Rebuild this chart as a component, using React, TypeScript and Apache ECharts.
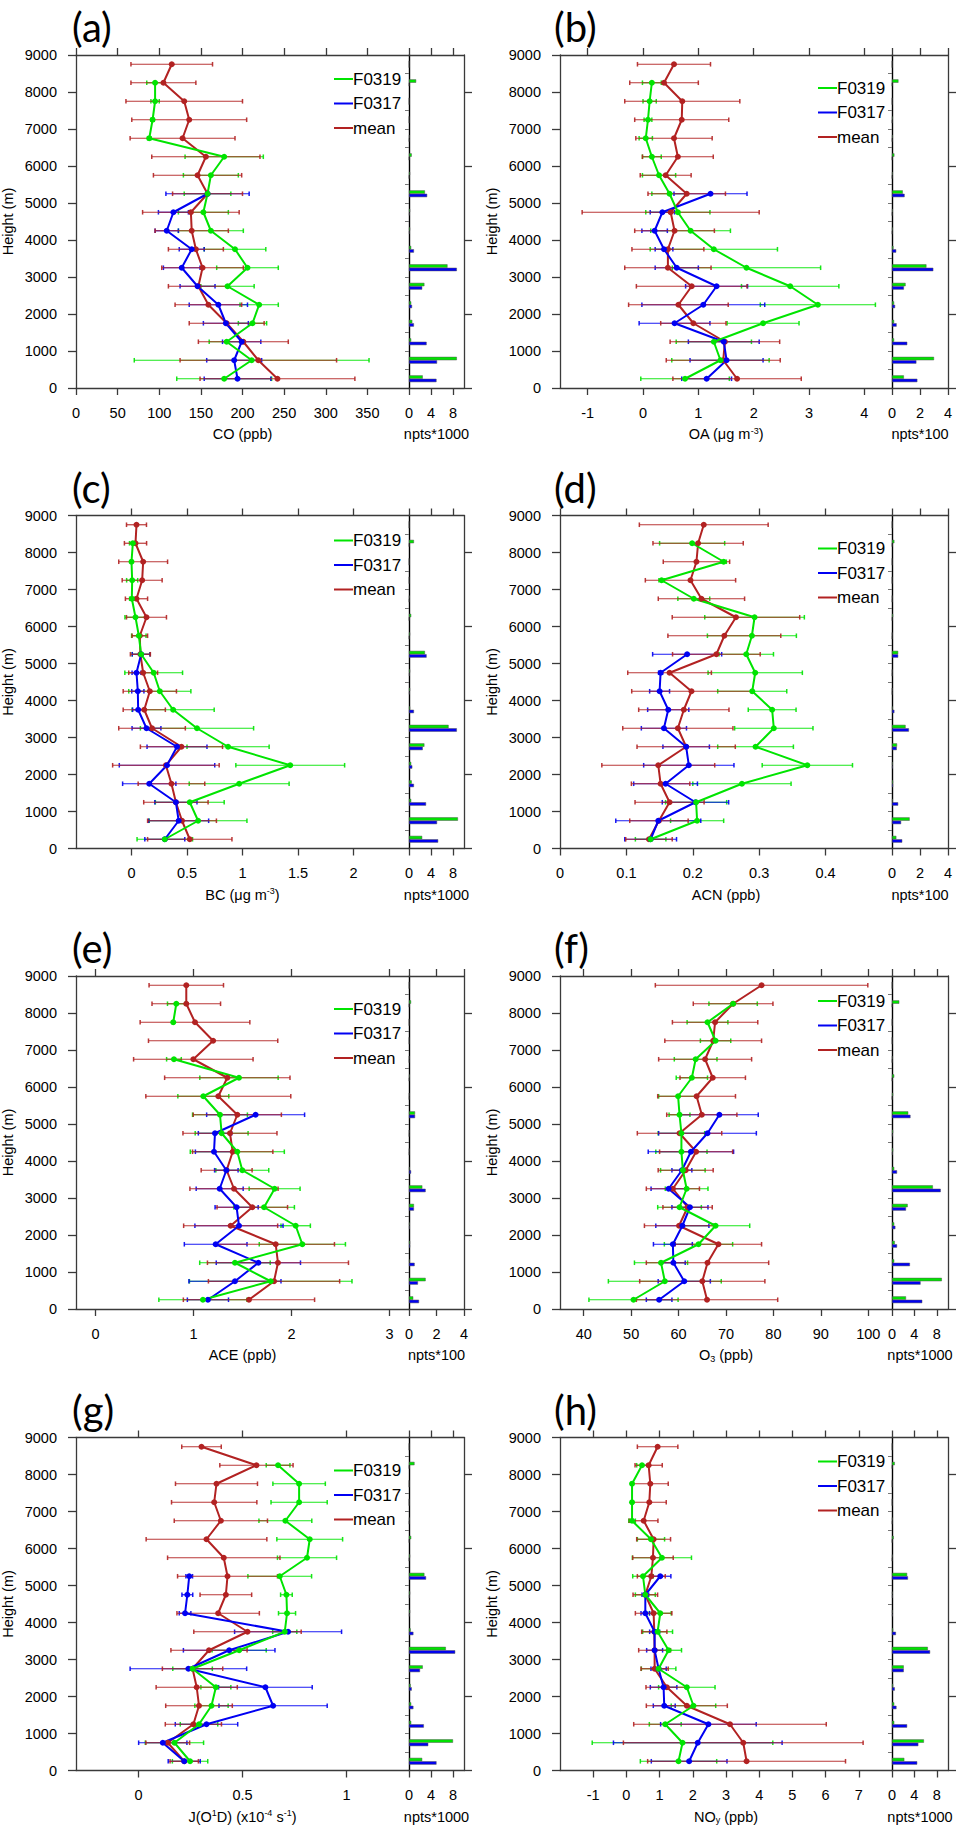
import React, { useEffect, useRef } from 'react';
import * as echarts from 'echarts';

// Height bins (m), bottom to top
const LEVELS = [250, 750, 1250, 1750, 2250, 2750, 3250, 3750, 4250, 4750, 5250, 5750, 6250, 6750, 7250, 7750, 8250, 8750];

type Pt = [number, number] | null; // [mean, std]

// (a) CO
const coF0319: Pt[] = [[178, 57], [211, 141], [181, 21], [212, 17], [220, 23], [182, 32], [206, 37], [191, 37], [162, 39], [153, 30], [158, 28], [162, 33], [178, 47], [88, 2], [92, 2], [95, 5], [95, 10], null];
const coF0317: Pt[] = [[194, 40], [190, 33], [199, 23], [180, 27], [171, 35], [146, 21], [127, 22], [139, 15], [109, 14], [117, 18], [158, 50]];
const coMean: Pt[] = [[242, 93], [219, 94], [201, 54], [181, 45], [159, 40], [147, 36], [152, 49], [144, 33], [139, 44], [138, 58], [158, 42], [146, 53], [156, 65], [128, 63], [136, 69], [130, 70], [105, 39], [115, 49]];
const coNptsF0319 = [2.5, 8.7, 0.4, 0.6, 0.4, 2.8, 7.0, 0.4, 0.2, 0.2, 2.9, 0.2, 0.5, 0.1, 0, 0, 1.3, 0];
const coNptsF0317 = [5.0, 5.1, 3.2, 0.9, 0.55, 2.4, 8.7, 0.9, 0.1, 0.1, 3.3, 0, 0, 0, 0, 0, 0, 0];

// (b) OA
const oaF0319: Pt[] = [[0.76, 0.8], [1.4, 0.88], [1.28, 0.68], [2.17, 0.65], [3.16, 1.04], [2.66, 0.88], [1.87, 1.34], [1.28, 1.15], [0.86, 0.72], [0.63, 0.58], [0.48, 0.32], [0.29, 0.3], [0.16, 0.17], [0.05, 0.12], [0.09, 0.07], [0.12, 0.12], [0.16, 0.17], null];
const oaF0317: Pt[] = [[1.15, 0.45], [1.51, 0.66], [1.46, 0.64], [0.57, 0.64], [1.09, 1.11], [1.33, 0.56], [0.61, 0.39], [0.38, 0.16], [0.21, 0.23], [0.35, 0.22], [1.22, 0.66]];
const oaMean: Pt[] = [[1.7, 1.16], [1.45, 1.03], [1.48, 0.99], [0.91, 0.59], [0.64, 0.9], [0.88, 1.0], [0.45, 0.78], [0.45, 0.65], [0.57, 0.72], [0.5, 1.6], [0.79, 0.7], [0.41, 0.46], [0.63, 0.64], [0.56, 0.69], [0.7, 0.85], [0.71, 1.04], [0.38, 0.62], [0.56, 0.66]];
const oaNptsF0319 = [0.85, 3.0, 0.15, 0.15, 0.15, 0.97, 2.46, 0.1, 0.05, 0.05, 0.77, 0.05, 0.17, 0.05, 0.05, 0, 0.46, 0];
const oaNptsF0317 = [1.81, 1.74, 1.09, 0.33, 0.22, 0.85, 2.95, 0.3, 0, 0, 0.9, 0, 0, 0, 0, 0, 0, 0];

// (c) BC
const bcF0319: Pt[] = [[0.3, 0.25], [0.6, 0.44], [0.525, 0.31], [0.97, 0.45], [1.43, 0.49], [0.87, 0.37], [0.59, 0.51], [0.375, 0.37], [0.255, 0.28], [0.2, 0.26], [0.087, 0.08], [0.066, 0.065], [0.036, 0.095], [0.003, 0.02], [0.006, 0.05], [0.0, 0.01], [0.012, 0.03], null];
const bcF0317: Pt[] = [[0.3, 0.18], [0.425, 0.27], [0.4, 0.19], [0.16, 0.24], [0.32, 0.43], [0.41, 0.27], [0.135, 0.13], [0.06, 0.05], [0.057, 0.055], [0.045, 0.04], [0.087, 0.08]];
const bcMean: Pt[] = [[0.525, 0.38], [0.455, 0.31], [0.4, 0.29], [0.36, 0.3], [0.31, 0.48], [0.45, 0.37], [0.185, 0.3], [0.115, 0.19], [0.165, 0.24], [0.105, 0.13], [0.08, 0.09], [0.075, 0.07], [0.135, 0.18], [0.045, 0.1], [0.096, 0.18], [0.105, 0.22], [0.036, 0.1], [0.045, 0.09]];
const bcNptsF0319 = [2.4, 8.9, 0.4, 0.5, 0.4, 2.8, 7.2, 0.2, 0.2, 0.2, 2.9, 0.2, 0.4, 0.1, 0, 0, 0.9, 0];
const bcNptsF0317 = [5.3, 5.1, 3.1, 0.9, 0.6, 2.5, 8.7, 0.9, 0.1, 0.1, 3.2, 0, 0, 0, 0, 0, 0, 0];

// (d) ACN
const acnF0319: Pt[] = [[0.1365, 0.023], [0.2065, 0.04], [0.205, 0.046], [0.274, 0.074], [0.3725, 0.068], [0.2945, 0.057], [0.322, 0.059], [0.3195, 0.036], [0.2895, 0.052], [0.294, 0.071], [0.2805, 0.041], [0.289, 0.067], [0.293, 0.075], [0.2015, 0.024], [0.153, 0.004], [0.2465, 0.004], [0.199, 0.049], null];
const acnF0317: Pt[] = [[0.1365, 0.039], [0.148, 0.064], [0.204, 0.05], [0.159, 0.048], [0.194, 0.068], [0.19, 0.035], [0.1565, 0.034], [0.163, 0.031], [0.15, 0.015], [0.1515, 0.003], [0.1915, 0.052]];
const acnMean: Pt[] = [[0.134, 0.035], [0.149, 0.044], [0.165, 0.052], [0.1515, 0.044], [0.148, 0.085], [0.19, 0.074], [0.1775, 0.083], [0.1865, 0.068], [0.198, 0.09], [0.165, 0.063], [0.2355, 0.066], [0.2475, 0.085], [0.265, 0.096], [0.213, 0.065], [0.1965, 0.068], [0.2055, 0.05], [0.208, 0.068], [0.2165, 0.097]];
const acnNptsF0319 = [0.31, 1.26, 0.05, 0.08, 0.05, 0.36, 0.97, 0.05, 0.02, 0.02, 0.44, 0.02, 0.08, 0.02, 0, 0, 0.17, 0];
const acnNptsF0317 = [0.73, 0.65, 0.44, 0.08, 0.05, 0.34, 1.21, 0.17, 0, 0, 0.44, 0, 0, 0, 0, 0, 0, 0];

// (e) ACE
const aceF0319: Pt[] = [[1.096, 0.45], [1.788, 0.83], [1.423, 0.36], [2.111, 0.44], [2.043, 0.15], [1.72, 0.31], [1.828, 0.26], [1.498, 0.27], [1.447, 0.48], [1.287, 0.27], [1.27, 0.28], [1.1, 0.26], [1.464, 0.4], [0.8, 0.075], null, [0.793, 0.01], [0.824, 0.09], null];
const aceF0317: Pt[] = [[1.147, 0.21], [1.423, 0.47], [1.662, 0.43], [1.226, 0.32], [1.464, 0.45], [1.44, 0.22], [1.267, 0.24], [1.335, 0.12], [1.209, 0.19], [1.219, 0.17], [1.634, 0.5]];
const aceMean: Pt[] = [[1.566, 0.67], [1.822, 0.67], [1.862, 0.72], [1.839, 0.6], [1.379, 0.48], [1.6, 0.36], [1.413, 0.45], [1.338, 0.26], [1.4, 0.41], [1.372, 0.48], [1.447, 0.45], [1.253, 0.74], [1.345, 0.64], [0.998, 0.61], [1.2, 0.66], [1.015, 0.56], [0.926, 0.35], [0.926, 0.38]];
const aceNptsF0319 = [0.31, 1.21, 0.05, 0.08, 0.05, 0.36, 0.97, 0.05, 0.02, 0.02, 0.44, 0.02, 0.05, 0.02, 0, 0, 0.15, 0];
const aceNptsF0317 = [0.73, 0.65, 0.41, 0.08, 0.05, 0.36, 1.21, 0.15, 0, 0, 0.44, 0, 0, 0, 0, 0, 0, 0];

// (f) O3
const o3F0319: Pt[] = [[50.5, 9.4], [57.1, 11.9], [56.3, 5.6], [64.2, 7.2], [67.8, 7.2], [60.2, 4.6], [61.7, 4.5], [60.9, 4.7], [60.6, 5.4], [60.6, 4.9], [60.2, 2.2], [59.9, 4.1], [62.8, 3.3], [63.6, 4.5], [67.8, 3.2], [66.1, 4.3], [71.5, 5.1], null];
const o3F0317: Pt[] = [[55.9, 2.7], [61.2, 5.5], [58.9, 2.5], [58.8, 4.1], [60.8, 5.6], [62.4, 3.8], [57.9, 3.7], [60.7, 2.1], [62.6, 9.0], [66.1, 10.3], [68.6, 8.2]];
const o3Mean: Pt[] = [[66.0, 14.9], [65.0, 13.2], [66.1, 12.9], [68.4, 9.1], [60.1, 7.3], [61.9, 5.2], [58.8, 5.6], [61.5, 5.8], [63.7, 7.7], [60.2, 8.9], [64.9, 7.4], [63.8, 8.2], [67.2, 6.9], [65.6, 9.8], [67.3, 10.2], [67.7, 9.0], [71.5, 8.4], [77.5, 22.4]];
const o3NptsF0319 = [2.5, 8.9, 0.4, 0.5, 0.4, 2.8, 7.3, 0.4, 0.2, 0.2, 2.9, 0.2, 0.4, 0.1, 0, 0, 1.3, 0];
const o3NptsF0317 = [5.4, 5.1, 3.2, 0.9, 0.6, 2.5, 8.7, 0.9, 0.1, 0.1, 3.3, 0, 0, 0, 0, 0, 0, 0];

// (g) J(O1D)
const jF0319: Pt[] = [[0.248, 0.085], [0.173, 0.14], [0.291, 0.09], [0.351, 0.08], [0.372, 0.072], [0.26, 0.095], [0.484, 0.13], [0.703, 0.058], [0.714, 0.041], [0.711, 0.028], [0.679, 0.153], [0.81, 0.142], [0.823, 0.158], [0.706, 0.127], [0.772, 0.135], [0.772, 0.126], [0.671, 0.057], null];
const jF0317: Pt[] = [[0.22, 0.077], [0.117, 0.116], [0.327, 0.15], [0.647, 0.26], [0.61, 0.225], [0.24, 0.28], [0.436, 0.22], [0.719, 0.257], [0.224, 0.028], [0.235, 0.026], [0.244, 0.016]];
const jMean: Pt[] = [[0.22, 0.068], [0.141, 0.105], [0.264, 0.135], [0.291, 0.16], [0.28, 0.195], [0.26, 0.145], [0.339, 0.183], [0.524, 0.258], [0.383, 0.198], [0.42, 0.124], [0.428, 0.24], [0.41, 0.27], [0.327, 0.29], [0.396, 0.224], [0.364, 0.205], [0.375, 0.197], [0.567, 0.176], [0.303, 0.095]];
const jNptsF0319 = [2.4, 8.0, 0.4, 0.4, 0.3, 2.5, 6.7, 0.3, 0.2, 0.2, 2.8, 0.2, 0.4, 0.1, 0, 0, 1.0, 0];
const jNptsF0317 = [5.0, 3.5, 2.7, 0.8, 0.5, 2.0, 8.4, 0.8, 0.1, 0.1, 3.1, 0, 0, 0, 0, 0, 0, 0];

// (h) NOy
const noyF0319: Pt[] = [[1.57, 1.15], [1.69, 2.72], [1.17, 0.48], [2.02, 0.67], [1.82, 0.85], [0.97, 0.52], [1.27, 0.39], [0.94, 0.45], [1.02, 0.33], [0.57, 0.3], [0.5, 0.31], [1.07, 0.89], [0.74, 0.41], [0.17, 0.1], [0.17, 0.03], [0.17, 0.03], [0.47, 0.16], null];
const noyF0317: Pt[] = [[1.89, 1.14], [2.15, 2.54], [2.47, 1.44], [1.14, 0.33], [1.12, 0.4], [0.97, 0.23], [0.85, 0.24], [0.85, 0.15], [0.57, 0.13], [0.57, 0.1], [1.02, 0.32]];
const noyMean: Pt[] = [[3.62, 2.98], [3.52, 3.61], [3.12, 2.9], [1.82, 1.22], [1.22, 0.63], [0.85, 0.41], [0.85, 0.48], [0.84, 0.38], [0.82, 0.55], [0.57, 0.37], [0.75, 0.42], [0.8, 0.61], [0.82, 0.51], [0.52, 0.43], [0.69, 0.51], [0.72, 0.54], [0.67, 0.41], [0.94, 0.61]];
const noyNptsF0319 = [2.2, 5.7, 0.4, 0.4, 0.2, 2.1, 6.4, 0.2, 0.1, 0.1, 2.7, 0.1, 0.3, 0.1, 0, 0, 0.5, 0];
const noyNptsF0317 = [4.5, 4.7, 2.7, 0.8, 0.5, 2.1, 6.8, 0.7, 0.1, 0.1, 2.85, 0, 0, 0, 0, 0, 0, 0];

// tick labels
const CO_TICKS = [0, 50, 100, 150, 200, 250, 300, 350];
const OA_TICKS = [-1, 0, 1, 2, 3, 4];
const BC_TICKS = [0, 0.5, 1, 1.5, 2];
const ACN_TICKS = [0, 0.1, 0.2, 0.3, 0.4];
const ACE_TICKS = [0, 1, 2, 3];
const O3_TICKS = [40, 50, 60, 70, 80, 90, 100];
const JO1D_TICKS = [0, 0.5, 1];
const NOY_TICKS = [-1, 0, 1, 2, 3, 4, 5, 6, 7];
const NPTS1000_TICKS = [0, 4, 8];
const NPTS100_TICKS = [0, 2, 4];
const HEIGHT_MAJOR_RIGHT = [0, 2000, 4000, 6000, 8000];
const HEIGHT_MINOR_RIGHT = [500, 1000, 1500, 2500, 3000, 3500, 4500, 5000, 5500, 6500, 7000, 7500, 8500];
const SERIES_NAMES = ['F0319', 'F0317', 'mean'];

const PANELS = [
  { tag: '(a)', g: coF0319, b: coF0317, m: coMean, ng: coNptsF0319, nb: coNptsF0317, xMin: 0, xMax: 400, ticks: CO_TICKS, nMax: 10, nTicks: NPTS1000_TICKS, xName: 'CO (ppb)', nName: 'npts*1000', legendDy: 24 },
  { tag: '(b)', g: oaF0319, b: oaF0317, m: oaMean, ng: oaNptsF0319, nb: oaNptsF0317, xMin: -1.5, xMax: 4.5, ticks: OA_TICKS, nMax: 4, nTicks: NPTS100_TICKS, xName: 'OA (μg m{sup|-3})', nName: 'npts*100', legendDy: 33 },
  { tag: '(c)', g: bcF0319, b: bcF0317, m: bcMean, ng: bcNptsF0319, nb: bcNptsF0317, xMin: -0.5, xMax: 2.5, ticks: BC_TICKS, nMax: 10, nTicks: NPTS1000_TICKS, xName: 'BC (μg m{sup|-3})', nName: 'npts*1000', legendDy: 25 },
  { tag: '(d)', g: acnF0319, b: acnF0317, m: acnMean, ng: acnNptsF0319, nb: acnNptsF0317, xMin: 0, xMax: 0.5, ticks: ACN_TICKS, nMax: 4, nTicks: NPTS100_TICKS, xName: 'ACN (ppb)', nName: 'npts*100', legendDy: 33 },
  { tag: '(e)', g: aceF0319, b: aceF0317, m: aceMean, ng: aceNptsF0319, nb: aceNptsF0317, xMin: -0.2, xMax: 3.2, ticks: ACE_TICKS, nMax: 4, nTicks: NPTS100_TICKS, xName: 'ACE (ppb)', nName: 'npts*100', legendDy: 33 },
  { tag: '(f)', g: o3F0319, b: o3F0317, m: o3Mean, ng: o3NptsF0319, nb: o3NptsF0317, xMin: 35, xMax: 105, ticks: O3_TICKS, nMax: 10, nTicks: NPTS1000_TICKS, xName: 'O{sub|3} (ppb)', nName: 'npts*1000', legendDy: 25 },
  { tag: '(g)', g: jF0319, b: jF0317, m: jMean, ng: jNptsF0319, nb: jNptsF0317, xMin: -0.3, xMax: 1.3, ticks: JO1D_TICKS, nMax: 10, nTicks: NPTS1000_TICKS, xName: 'J(O{sup|1}D) (x10{sup|-4} s{sup|-1})', nName: 'npts*1000', legendDy: 33 },
  { tag: '(h)', g: noyF0319, b: noyF0317, m: noyMean, ng: noyNptsF0319, nb: noyNptsF0317, xMin: -2, xMax: 8, ticks: NOY_TICKS, nMax: 10, nTicks: NPTS1000_TICKS, xName: 'NO{sub|y} (ppb)', nName: 'npts*1000', legendDy: 24 },
];

const FONT = '"Liberation Sans", Arial, Helvetica, sans-serif';
const GREEN = '#00e400';
const BLUE = '#0000f2';
const RED = '#b22222';
const FRAME = '#3a3a3a';
const COLORS = [GREEN, BLUE, RED];

const COL_LEFT = [76, 560];
const MAIN_W = [333, 332];
const HIST_W = [55, 56];
const ROW_TOP = [55, 515.5, 976, 1437.5];
const PLOT_H = 333;

const LABEL = { fontFamily: FONT, fontSize: 14.5, color: '#000' };
const RICH = {
  sup: { fontFamily: FONT, fontSize: 9, lineHeight: 10, verticalAlign: 'top', color: '#000' },
  sub: { fontFamily: FONT, fontSize: 9, lineHeight: 10, verticalAlign: 'bottom', color: '#000' },
};
const AXLINE = { color: FRAME, width: 1.3 };
const plain = (v: number) => String(v);

const errData = (pts: Pt[]) =>
  pts.map((d, i) => (d ? [d[0] - d[1], d[0] + d[1], LEVELS[i]] : null)).filter((d) => d !== null);

const lineData = (pts: Pt[]) =>
  LEVELS.map((h, i) => {
    const d = pts[i];
    return d ? [d[0], h] : ['-', h];
  });

const errRenderer = (color: string) => (params: any, api: any) => {
  const y = api.value(2);
  const a = api.coord([api.value(0), y]);
  const b = api.coord([api.value(1), y]);
  const style = { stroke: color, lineWidth: 1.2, opacity: 0.9 };
  const cap = 2.3;
  return {
    type: 'group',
    children: [
      { type: 'line', shape: { x1: a[0], y1: a[1], x2: b[0], y2: b[1] }, style },
      { type: 'line', shape: { x1: a[0], y1: a[1] - cap, x2: a[0], y2: a[1] + cap }, style: { ...style, lineWidth: 1.5 } },
      { type: 'line', shape: { x1: b[0], y1: b[1] - cap, x2: b[0], y2: b[1] + cap }, style: { ...style, lineWidth: 1.5 } },
    ],
  };
};

function buildOption() {
  const grid: any[] = [];
  const xAxis: any[] = [];
  const yAxis: any[] = [];
  const series: any[] = [];
  const graphic: any[] = [];

  PANELS.forEach((p, i) => {
    const col = i % 2;
    const row = Math.floor(i / 2);
    const left = COL_LEFT[col];
    const top = ROW_TOP[row];
    const w = MAIN_W[col];
    const hw = HIST_W[col];
    const gi = 3 * i;
    const xi = 5 * i;
    const yi = 4 * i;

    grid.push({ left, top, width: w, height: PLOT_H, outerBoundsMode: 'none' });
    grid.push({ left: left + w, top, width: hw, height: PLOT_H, outerBoundsMode: 'none' });
    grid.push({ left: left + w, top, width: hw, height: PLOT_H, outerBoundsMode: 'none' });

    // main x (bottom, top)
    xAxis.push({
      type: 'value', gridIndex: gi, position: 'bottom', min: p.xMin, max: p.xMax,
      axisLine: { show: true, onZero: false, lineStyle: AXLINE },
      axisTick: { show: true, customValues: p.ticks, length: 7, lineStyle: AXLINE },
      axisLabel: { show: true, customValues: p.ticks, margin: 17, formatter: plain, ...LABEL },
      splitLine: { show: false },
      name: p.xName, nameLocation: 'middle', nameGap: 38,
      nameTextStyle: { ...LABEL, lineHeight: 16, rich: RICH },
    });
    xAxis.push({
      type: 'value', gridIndex: gi, position: 'top', min: p.xMin, max: p.xMax,
      axisLine: { show: true, onZero: false, lineStyle: AXLINE },
      axisTick: { show: true, customValues: p.ticks, length: 7, lineStyle: AXLINE },
      axisLabel: { show: false },
      splitLine: { show: false },
    });
    // hist x (bottom, top)
    xAxis.push({
      type: 'value', gridIndex: gi + 1, position: 'bottom', min: 0, max: p.nMax,
      axisLine: { show: true, onZero: false, lineStyle: AXLINE },
      axisTick: { show: true, customValues: p.nTicks, length: 7, lineStyle: AXLINE },
      axisLabel: { show: true, customValues: p.nTicks, margin: 17, formatter: plain, ...LABEL },
      splitLine: { show: false },
      name: p.nName, nameLocation: 'middle', nameGap: 38,
      nameTextStyle: { ...LABEL, lineHeight: 16 },
    });
    xAxis.push({
      type: 'value', gridIndex: gi + 1, position: 'top', min: 0, max: p.nMax,
      axisLine: { show: true, onZero: false, lineStyle: AXLINE },
      axisTick: { show: true, customValues: p.nTicks, length: 7, lineStyle: AXLINE },
      axisLabel: { show: false },
      splitLine: { show: false },
    });
    xAxis.push({ type: 'value', gridIndex: gi + 2, show: false, min: 0, max: 1 });

    // main y
    yAxis.push({
      type: 'value', gridIndex: gi, position: 'left', min: 0, max: 9000, interval: 1000,
      axisLine: { show: true, onZero: false, lineStyle: AXLINE },
      axisTick: { show: true, length: 8, lineStyle: AXLINE },
      axisLabel: { show: true, margin: 19, formatter: plain, ...LABEL },
      splitLine: { show: false },
      name: 'Height (m)', nameLocation: 'middle', nameGap: 61, nameRotate: 90,
      nameTextStyle: { ...LABEL },
    });
    // hist y: category (divider) + right ticks
    yAxis.push({
      type: 'category', gridIndex: gi + 1, position: 'left', data: LEVELS.map(String),
      axisLine: { show: true, onZero: false, lineStyle: { color: '#000', width: 1.4 } },
      axisTick: { show: false },
      axisLabel: { show: false },
      splitLine: { show: false },
    });
    yAxis.push({
      type: 'value', gridIndex: gi + 1, position: 'right', min: 0, max: 9000,
      axisLine: { show: true, onZero: false, lineStyle: AXLINE },
      axisTick: { show: true, customValues: HEIGHT_MAJOR_RIGHT, length: 8, lineStyle: AXLINE },
      axisLabel: { show: false },
      splitLine: { show: false },
    });
    yAxis.push({
      type: 'value', gridIndex: gi + 2, position: 'right', min: 0, max: 9000,
      axisLine: { show: false },
      axisTick: { show: true, inside: true, customValues: HEIGHT_MINOR_RIGHT, length: 4, lineStyle: { color: '#777', width: 1 } },
      axisLabel: { show: false },
      splitLine: { show: false },
    });

    const profiles = [p.g, p.b, p.m];
    // error bars: green, blue, red
    profiles.forEach((pts, k) => {
      series.push({
        type: 'custom', name: SERIES_NAMES[k], xAxisIndex: xi, yAxisIndex: yi, z: 2,
        renderItem: errRenderer(COLORS[k]),
        encode: { x: [0, 1], y: 2 },
        data: errData(pts),
      });
    });
    // profile lines: red, blue, green (green on top)
    [2, 1, 0].forEach((k) => {
      series.push({
        type: 'line', name: SERIES_NAMES[k], xAxisIndex: xi, yAxisIndex: yi, z: 3,
        data: lineData(profiles[k]),
        symbol: 'circle', symbolSize: 6, showSymbol: true,
        lineStyle: { color: COLORS[k], width: 2 },
        itemStyle: { color: COLORS[k] },
        connectNulls: false,
      });
    });
    // histogram bars (first series sits above the second)
    [p.ng, p.nb].forEach((vals, k) => {
      series.push({
        type: 'bar', name: SERIES_NAMES[k], xAxisIndex: xi + 2, yAxisIndex: yi + 1,
        data: vals, barWidth: 3.4, barGap: '0%',
        itemStyle: { color: COLORS[k], borderColor: '#555', borderWidth: 0.5 },
      });
    });

    // legend
    const lx = left + 258;
    SERIES_NAMES.forEach((name, k) => {
      const ly = top + p.legendDy + k * 24.5;
      graphic.push({ type: 'line', shape: { x1: lx, y1: ly, x2: lx + 19, y2: ly }, style: { stroke: COLORS[k], lineWidth: 2 }, z: 10 });
      graphic.push({ type: 'text', x: lx + 19, y: ly, style: { text: name, fontFamily: FONT, fontSize: 17, fill: '#000', align: 'left', verticalAlign: 'middle' }, z: 10 });
    });
    // panel tag
    graphic.push({
      type: 'text', x: left - (col === 0 ? 4 : 6), y: top - 51,
      style: { text: p.tag, fontFamily: 'Lato, "Open Sans", sans-serif', fontSize: 40, lineHeight: 46, fill: '#000', align: 'left', verticalAlign: 'top' },
    });
  });

  return { animation: false, backgroundColor: '#fff', grid, xAxis, yAxis, series, graphic };
}

export default function App() {
  const chartRef = useRef<HTMLDivElement>(null);

  useEffect(() => {
    if (!chartRef.current) return;
    const chart = echarts.init(chartRef.current, null, { renderer: 'svg' });
    chart.setOption(buildOption() as any);
    return () => {
      chart.dispose();
    };
  }, []);

  return (
    <div
      ref={chartRef}
      style={{ position: 'absolute', left: 0, top: 0, width: 957, height: 1827, background: '#fff' }}
    />
  );
}
